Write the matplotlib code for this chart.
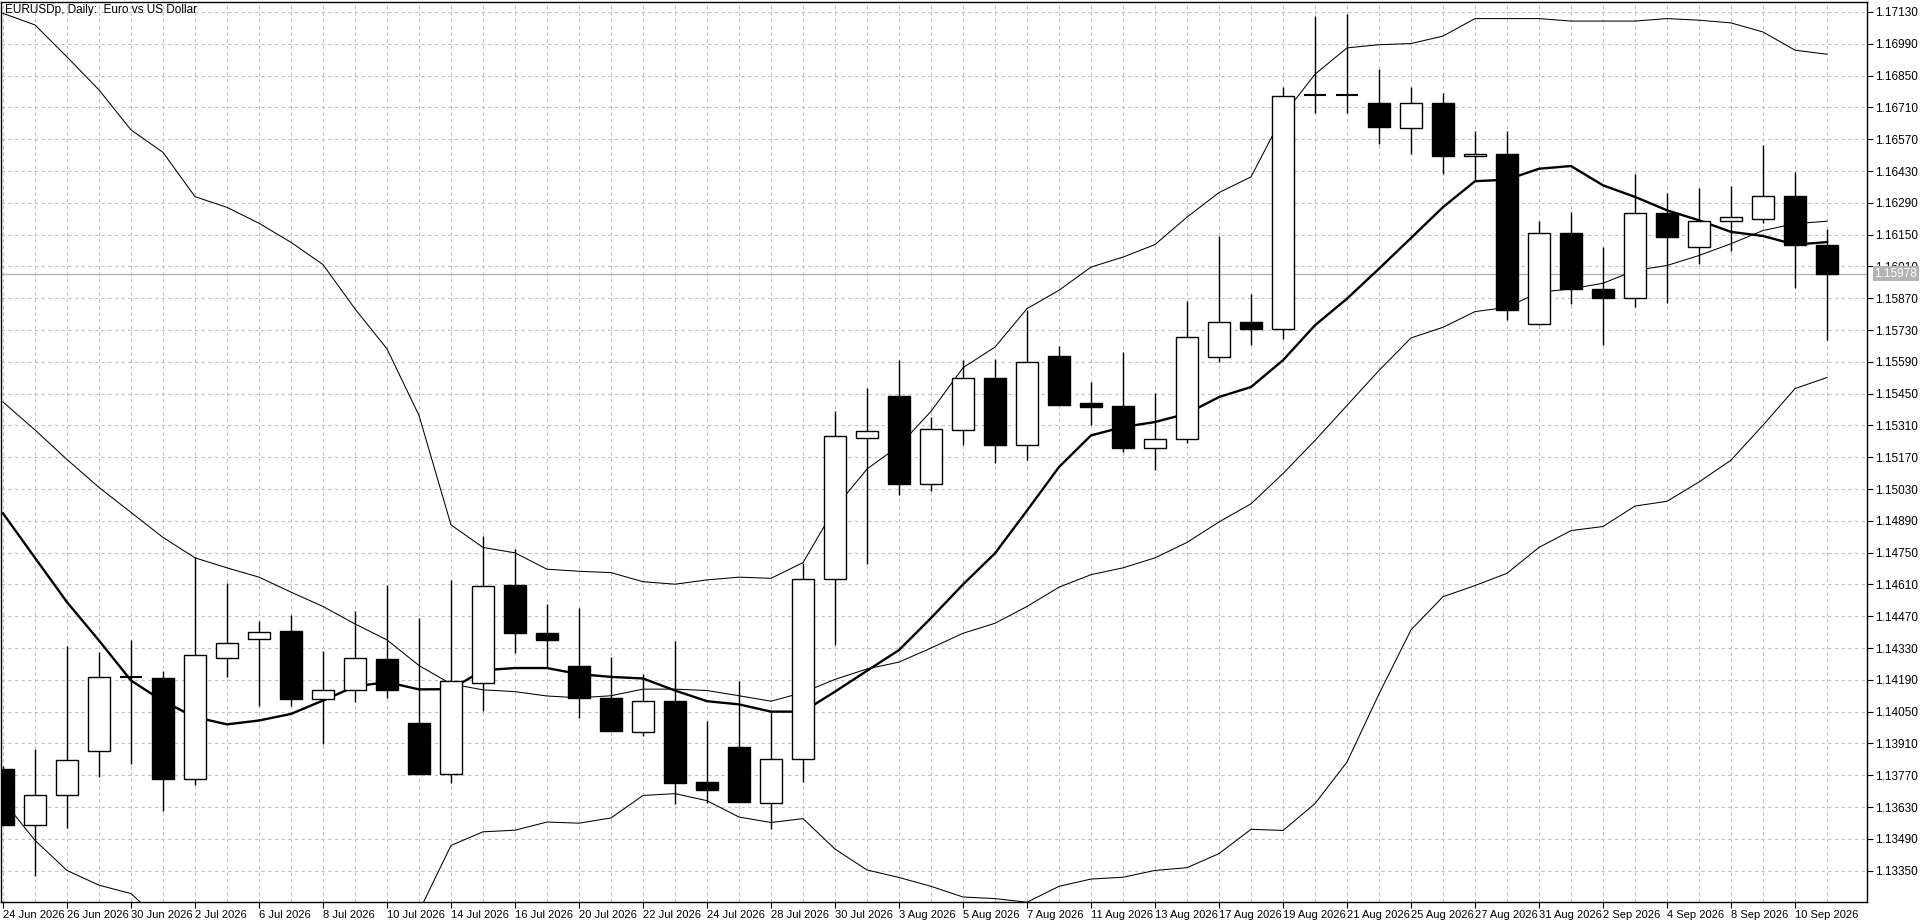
import matplotlib
matplotlib.use("Agg")
import matplotlib.pyplot as plt
import numpy as np

opens = [1.13796,1.13552,1.13684,1.13878,1.14202,1.14200,1.13753,1.14287,1.14369,1.14403,
         1.14106,1.14146,1.14282,1.13999,1.13777,1.14174,1.14608,1.14395,1.14250,1.14111,
         1.13960,1.14096,1.13739,1.13894,1.13650,1.13841,1.14633,1.15255,1.15438,1.15052,
         1.15290,1.15520,1.15225,1.15614,1.15410,1.15394,1.15212,1.15252,1.15613,1.15764,
         1.15734,1.16763,1.16763,1.16731,1.16621,1.16731,1.16497,1.16506,1.15758,1.16159,
         1.15912,1.15872,1.16247,1.16097,1.16211,1.16220,1.16321,1.16106]
highs = [1.13810,1.13887,1.14341,1.14312,1.14367,1.14228,1.14729,1.14618,1.14451,1.14477,
         1.14319,1.14495,1.14609,1.14461,1.14630,1.14825,1.14767,1.14524,1.14505,1.14291,
         1.14215,1.14363,1.14009,1.14187,1.14050,1.14706,1.15374,1.15473,1.15600,1.15346,
         1.15596,1.15604,1.15820,1.15660,1.15502,1.15633,1.15454,1.15856,1.16142,1.15887,
         1.16800,1.17111,1.17120,1.16878,1.16798,1.16772,1.16605,1.16605,1.16210,1.16248,
         1.16094,1.16415,1.16335,1.16357,1.16363,1.16543,1.16424,1.16176]
lows = [1.13552,1.13325,1.13538,1.13762,1.13818,1.13611,1.13725,1.14202,1.14074,1.14076,
        1.13907,1.14092,1.14109,1.13777,1.13735,1.14055,1.14309,1.14242,1.14024,1.13966,
        1.13943,1.13643,1.13650,1.13653,1.13533,1.13742,1.14344,1.14700,1.15005,1.15020,
        1.15224,1.15144,1.15159,1.15398,1.15310,1.15191,1.15112,1.15234,1.15589,1.15663,
        1.15692,1.16685,1.16685,1.16547,1.16503,1.16417,1.16389,1.15773,1.15751,1.15843,
        1.15663,1.15831,1.15849,1.16021,1.16078,1.16201,1.15916,1.15687]
closes = [1.13552,1.13684,1.13838,1.14203,1.14202,1.13753,1.14301,1.14353,1.14401,1.14105,
          1.14146,1.14287,1.14145,1.13777,1.14187,1.14603,1.14395,1.14367,1.14108,1.13966,
          1.14096,1.13737,1.13707,1.13653,1.13841,1.14633,1.15262,1.15285,1.15050,1.15294,
          1.15520,1.15224,1.15588,1.15398,1.15391,1.15210,1.15252,1.15698,1.15767,1.15736,
          1.16762,1.16763,1.16763,1.16624,1.16731,1.16496,1.16505,1.15818,1.16159,1.15911,
          1.15872,1.16247,1.16139,1.16211,1.16227,1.16321,1.16103,1.15978]

bb_upper = [1.17124,1.17073,1.16932,1.16787,1.16611,1.16512,1.16317,1.16270,1.16200,1.16116,
            1.16018,1.15823,1.15647,1.15354,1.14872,1.14773,1.14749,1.14677,1.14668,1.14662,
            1.14622,1.14611,1.14630,1.14642,1.14637,1.14706,1.14947,1.15118,1.15220,1.15372,
            1.15564,1.15655,1.15824,1.15905,1.16007,1.16051,1.16106,1.16227,1.16335,1.16404,
            1.16675,1.16856,1.16972,1.16986,1.16991,1.17024,1.17101,1.17101,1.17101,1.17090,
            1.17090,1.17090,1.17101,1.17094,1.17082,1.17042,1.16962,1.16944]
bb_middle = [1.15413,1.15290,1.15160,1.15037,1.14927,1.14817,1.14727,1.14683,1.14642,1.14576,
             1.14513,1.14436,1.14366,1.14253,1.14172,1.14146,1.14138,1.14119,1.14111,1.14120,
             1.14149,1.14149,1.14143,1.14120,1.14096,1.14134,1.14192,1.14238,1.14268,1.14330,
             1.14395,1.14439,1.14513,1.14598,1.14653,1.14683,1.14727,1.14795,1.14885,1.14965,
             1.15098,1.15244,1.15398,1.15552,1.15695,1.15742,1.15811,1.15830,1.15896,1.15911,
             1.15936,1.15992,1.16014,1.16058,1.16110,1.16168,1.16198,1.16209]
bb_lower = [1.13659,1.13483,1.13351,1.13286,1.13249,1.13120,1.13050,1.13000,1.12980,1.12970,
            1.12980,1.13000,1.13050,1.13170,1.13461,1.13521,1.13528,1.13564,1.13559,1.13582,
            1.13681,1.13689,1.13658,1.13586,1.13562,1.13579,1.13445,1.13353,1.13320,1.13281,
            1.13234,1.13227,1.13211,1.13281,1.13313,1.13321,1.13351,1.13363,1.13425,1.13532,
            1.13527,1.13645,1.13828,1.14128,1.14410,1.14556,1.14605,1.14659,1.14773,1.14847,
            1.14865,1.14955,1.14976,1.15061,1.15157,1.15311,1.15472,1.15521]
ma_thick = [1.14923,1.14727,1.14532,1.14363,1.14187,1.14096,1.14026,1.13994,1.14011,1.14040,
            1.14099,1.14161,1.14180,1.14148,1.14149,1.14232,1.14242,1.14242,1.14215,1.14203,
            1.14196,1.14143,1.14096,1.14082,1.14050,1.14050,1.14138,1.14230,1.14321,1.14462,
            1.14610,1.14747,1.14935,1.15127,1.15266,1.15303,1.15325,1.15362,1.15435,1.15479,
            1.15597,1.15751,1.15868,1.16000,1.16135,1.16271,1.16385,1.16392,1.16440,1.16452,
            1.16367,1.16316,1.16257,1.16213,1.16162,1.16144,1.16106,1.16117]

date_labels = ["24 Jun 2026","26 Jun 2026","30 Jun 2026","2 Jul 2026","6 Jul 2026","8 Jul 2026",
               "10 Jul 2026","14 Jul 2026","16 Jul 2026","20 Jul 2026","22 Jul 2026","24 Jul 2026",
               "28 Jul 2026","30 Jul 2026","3 Aug 2026","5 Aug 2026","7 Aug 2026","11 Aug 2026",
               "13 Aug 2026","17 Aug 2026","19 Aug 2026","21 Aug 2026","25 Aug 2026","27 Aug 2026",
               "31 Aug 2026","2 Sep 2026","4 Sep 2026","8 Sep 2026","10 Sep 2026"]
price_ticks = [1.13350,1.13490,1.13630,1.13770,1.13910,1.14050,1.14190,1.14330,1.14470,1.14610,
               1.14750,1.14890,1.15030,1.15170,1.15310,1.15450,1.15590,1.15730,1.15870,1.16010,
               1.16150,1.16290,1.16430,1.16570,1.16710,1.16850,1.16990,1.17130]
current_price = 1.15978
title = "EURUSDp, Daily:  Euro vs US Dollar"

plt.rcParams['font.family'] = ['Liberation Sans', 'DejaVu Sans']
fig = plt.figure(figsize=(19.2, 9.23), dpi=100)
ax = fig.add_axes([1/1920, 21/923, 1866/1920, 900/923])

n = len(opens)
x = np.arange(n)
o = np.array(opens); c = np.array(closes); h = np.array(highs); l = np.array(lows)

ax.set_xlim(-0.0625, 58.25)
ax.set_ylim(1.13212, 1.17174)

for xi in x:
    ax.axvline(xi, color='#c0c0c0', lw=0.8, ls=(0, (3, 3)), zorder=0)
for p in price_ticks:
    ax.axhline(p, color='#c0c0c0', lw=0.8, ls=(0, (3, 3)), zorder=0)

ax.plot(x, bb_upper, color='black', lw=0.75, zorder=2)
ax.plot(x, bb_middle, color='black', lw=0.75, zorder=2)
ax.plot(x, bb_lower, color='black', lw=0.75, zorder=2)
ax.plot(x, ma_thick, color='black', lw=1.7, zorder=4)

ax.axhline(current_price, color='#b4b4b4', lw=1, zorder=1)

w = 0.6875
ax.vlines(x, l, h, color='black', lw=1.0, zorder=3)
bull = c > o
bear = c < o
doji = c == o
bot = np.minimum(o, c); hgt = np.abs(c - o)
ax.bar(x[bull], hgt[bull], bottom=bot[bull], width=w, facecolor='white', edgecolor='black', lw=1.0, zorder=5)
ax.bar(x[bear], hgt[bear], bottom=bot[bear], width=w, facecolor='black', edgecolor='black', lw=1.0, zorder=5)
ax.hlines(c[doji], x[doji] - w/2, x[doji] + w/2, color='black', lw=1.5, zorder=5)

ax.yaxis.tick_right()
ax.set_yticks(price_ticks)
ax.set_yticklabels([f"{p:.5f}" for p in price_ticks], fontsize=8.5)
ax.set_xticks(x[::2])
ax.set_xticklabels(date_labels, fontsize=8, ha='left')
ax.tick_params(axis='y', direction='out', length=4, pad=2, width=0.8)
ax.tick_params(axis='x', direction='out', length=4, pad=2, width=0.8)
for s in ax.spines.values():
    s.set_linewidth(1.0)
    s.set_color('black')

ax.text(1.004, current_price, f"{current_price:.5f}", transform=ax.get_yaxis_transform(),
        fontsize=8.5, color='white', va='center', ha='left',
        bbox=dict(boxstyle='square,pad=0.15', facecolor='#b4b4b4', edgecolor='none'), zorder=10, clip_on=False)

ax.text(4/1866, 1 - 8/900, title, transform=ax.transAxes, fontsize=8.5, va='center', ha='left', zorder=10)

fig.savefig("out.png", dpi=100)
